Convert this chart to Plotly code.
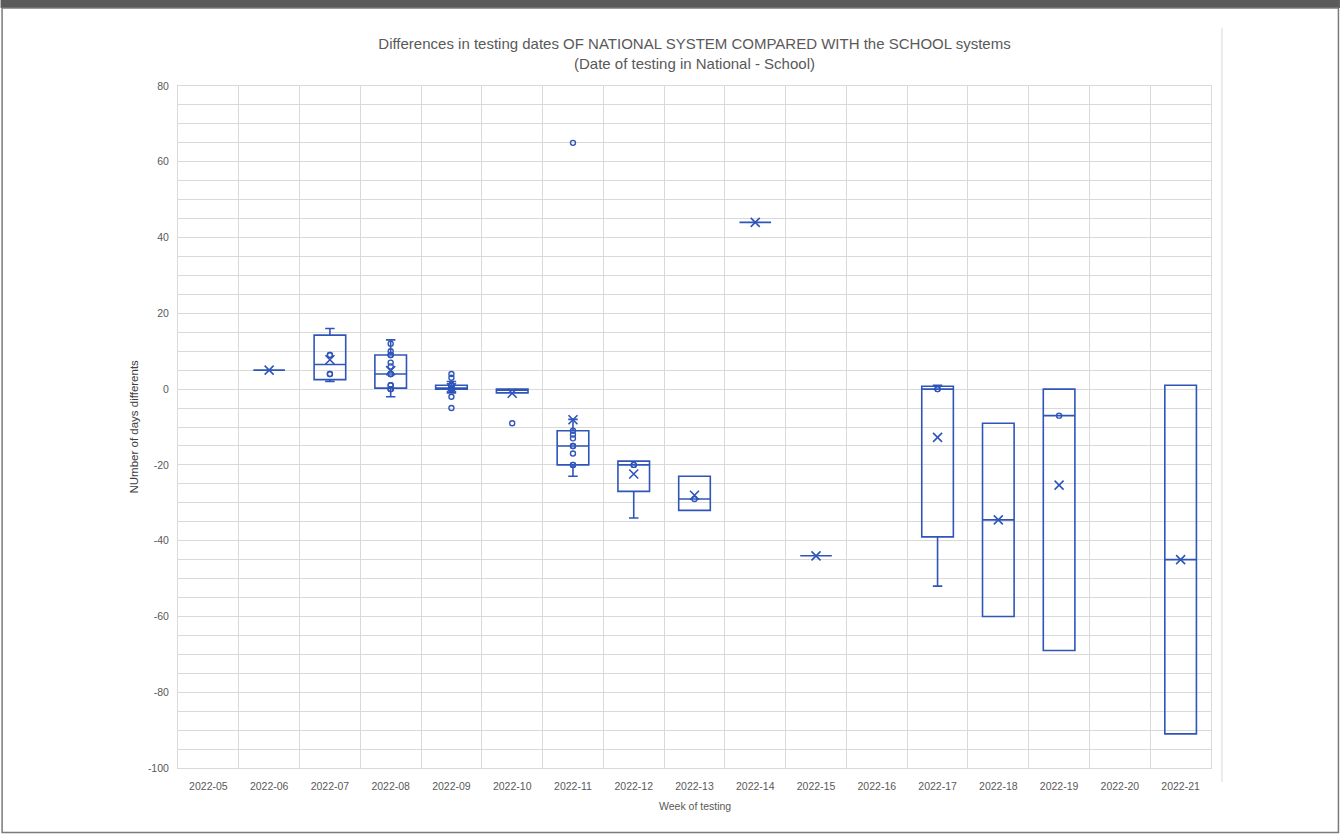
import numpy as np
import plotly.graph_objects as go

# ---------------- data ----------------
weeks = ["2022-05", "2022-06", "2022-07", "2022-08", "2022-09", "2022-10", "2022-11",
         "2022-12", "2022-13", "2022-14", "2022-15", "2022-16", "2022-17", "2022-18",
         "2022-19", "2022-20", "2022-21"]

y_ticks = [-100, -80, -60, -40, -20, 0, 20, 40, 60, 80]

w06 = [5, 5]
w07 = [2, 2, 4, 4, 9, 9, 16, 16]
w08 = [-2, 0, 0, 0, 1, 1, 4, 4, 4, 6, 7, 9, 9, 10, 12, 13]
w09 = [-5, -2, -1, 0, 0, 0, 0, 0, 0, 0, 0, 1, 1, 1, 1, 1, 1, 2, 3, 4]
w10 = [-9, -1, -1, -1, 0, 0, 0, 0, 0, 0, 0]
w11 = [-23, -20, -20, -17, -15, -15, -13, -12, -11, -8, 65]
w12 = [-34, -20, -20, -19, -19]
w13 = [-32, -29, -23]
w14 = [44]
w15 = [-44]
w17 = [-52, 0, 0, 1]
w18 = [-60, -9]
w19 = [-69, -7, 0]
w21 = [-91, 1]

data_weeks = ["2022-06", "2022-07", "2022-08", "2022-09", "2022-10", "2022-11", "2022-12",
              "2022-13", "2022-14", "2022-15", "2022-17", "2022-18", "2022-19", "2022-21"]
data_values = [w06, w07, w08, w09, w10, w11, w12, w13, w14, w15, w17, w18, w19, w21]

BLUE = "#2f55b8"
GRID = "#d9d9d9"
TXT = "#595959"
FONT = "Liberation Sans"

# ------------- statistics (Excel exclusive quartiles) -------------
q1s, meds, q3s, lows, ups, means = [], [], [], [], [], []
pt_x, pt_y = [], []
for wk, vals in zip(data_weeks, data_values):
    a = np.array(vals, dtype=float)
    q1 = float(np.percentile(a, 25, method="weibull"))
    md = float(np.median(a))
    q3 = float(np.percentile(a, 75, method="weibull"))
    iqr = q3 - q1
    inside = a[(a >= q1 - 1.5 * iqr) & (a <= q3 + 1.5 * iqr)]
    lo, hi = float(inside.min()), float(inside.max())
    q1s.append(q1); meds.append(md); q3s.append(q3)
    lows.append(lo); ups.append(hi); means.append(float(a.mean()))
    for v in a:
        if v != lo and v != hi:
            pt_x.append(wk); pt_y.append(float(v))

fig = go.Figure()
fig.add_trace(go.Box(
    x=data_weeks, q1=q1s, median=meds, q3=q3s, lowerfence=lows, upperfence=ups,
    width=0.52, whiskerwidth=0.3, fillcolor="rgba(0,0,0,0)",
    line=dict(color=BLUE, width=1.6), boxpoints=False, showlegend=False,
    hoverinfo="skip"))
fig.add_trace(go.Scatter(
    x=pt_x, y=pt_y, mode="markers", showlegend=False,
    marker=dict(symbol="circle-open", size=5, color=BLUE, line=dict(width=1.4, color=BLUE))))
fig.add_trace(go.Scatter(
    x=data_weeks, y=means, mode="markers", showlegend=False,
    marker=dict(symbol="x-thin", size=9, color=BLUE, line=dict(width=1.6, color=BLUE))))

L, R, T, B = 177.5, 1211.0, 86.0, 768.0
PW, PH = R - L, B - T


def px(x):
    return (x - L) / PW


def py(y):
    return (B - y) / PH


fig.update_layout(
    width=1340, height=834,
    margin=dict(l=L, r=1340 - R, t=T, b=834 - B, autoexpand=False),
    paper_bgcolor="white", plot_bgcolor="white",
    font=dict(family=FONT, color=TXT, size=10.5),
    title=dict(
        text="Differences in testing dates OF NATIONAL SYSTEM COMPARED WITH the SCHOOL systems<br>(Date of testing in National - School)",
        x=0.5, xref="paper", xanchor="center", y=1 - 49 / 834, yref="container", yanchor="top",
        font=dict(family=FONT, size=15, color=TXT)),
    xaxis=dict(
        type="category", categoryorder="array", categoryarray=weeks,
        range=[-0.5, len(weeks) - 0.5], tickson="boundaries",
        showgrid=True, gridcolor=GRID, gridwidth=1,
        showline=True, linecolor=GRID, linewidth=1, mirror=True,
        ticks="", ticklabelstandoff=8, tickfont=dict(size=10.5, color=TXT),
        zeroline=False, fixedrange=True),
    yaxis=dict(
        range=[-100, 80], tickmode="array", tickvals=y_ticks,
        ticktext=[str(v) for v in y_ticks],
        showgrid=True, gridcolor=GRID, gridwidth=1,
        minor=dict(dtick=5, tick0=0, showgrid=True, gridcolor=GRID, gridwidth=1),
        showline=True, linecolor=GRID, linewidth=1, mirror=True,
        ticks="", ticklabelstandoff=6, tickfont=dict(size=10.5, color=TXT),
        zeroline=False, fixedrange=True),
    annotations=[
        dict(text="NUmber of days differents", xref="paper", yref="paper",
             x=px(133), y=0.5, textangle=-90, showarrow=False,
             xanchor="center", yanchor="middle", font=dict(size=11.5, color="#404040")),
        dict(text="Week of testing", xref="paper", yref="paper",
             x=0.5, y=py(806), showarrow=False,
             xanchor="center", yanchor="middle", font=dict(size=10.5, color=TXT)),
    ],
    shapes=[
        dict(type="rect", xref="paper", yref="paper", x0=px(0), x1=px(1340), y0=py(0), y1=py(8),
             fillcolor="#5a5a5a", line=dict(width=0), layer="above"),
        dict(type="rect", xref="paper", yref="paper", x0=px(1.5), x1=px(1338.5), y0=py(8), y1=py(832.5),
             fillcolor="rgba(0,0,0,0)", line=dict(color="#7a7a7a", width=1.5), layer="above"),
        dict(type="line", xref="paper", yref="paper", x0=px(1222), x1=px(1222), y0=py(28), y1=py(782),
             line=dict(color=GRID, width=1), layer="below"),
    ],
)

fig.write_html("out.html", config={"displayModeBar": False},
               post_script="document.body.style.margin='0';")
